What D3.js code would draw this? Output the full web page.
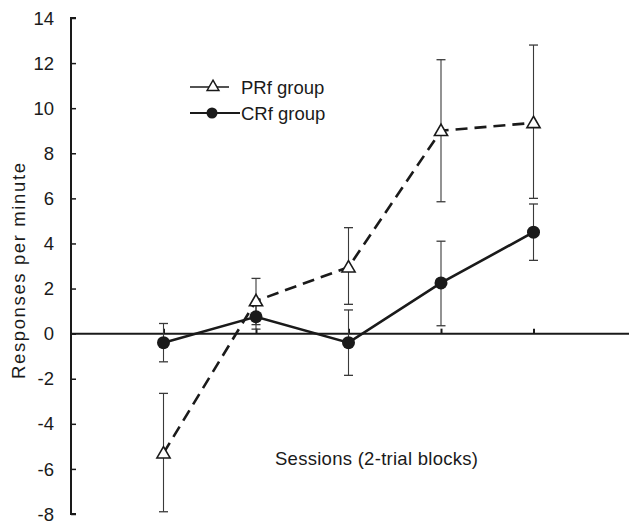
<!DOCTYPE html>
<html><head><meta charset="utf-8">
<script src="https://cdn.jsdelivr.net/npm/d3@7"></script>
<style>body{margin:0;background:#fff}svg{display:block}text{font-family:"Liberation Sans",Arial,sans-serif;fill:#1a1a1a}</style>
</head><body><svg id="c" width="629" height="521"></svg>
<script>
const sessions = [1, 2, 3, 4, 5];
const prfMean = [-5.3, 1.45, 2.95, 9.0, 9.35];
const prfLow  = [-7.9, 0.4, 1.3, 5.85, 6.0];
const prfHigh = [-2.65, 2.45, 4.7, 12.15, 12.8];
const crfMean = [-0.4, 0.75, -0.4, 2.25, 4.5];
const crfLow  = [-1.25, 0.2, -1.85, 0.35, 3.25];
const crfHigh = [0.45, 1.25, 1.05, 4.1, 5.75];
const yTicks = [-8, -6, -4, -2, 0, 2, 4, 6, 8, 10, 12, 14];
const legendLabels = ["PRf group", "CRf group"];

const svg = d3.select("#c");
const x = d3.scaleLinear().domain([0, 6]).range([71, 626]);
const y = d3.scaleLinear().domain([-8, 14]).range([514, 18]);
const ink = "#1a1a1a";

// y axis
const ya = svg.append("g").attr("transform", `translate(${x(0)},0)`)
  .call(d3.axisRight(y).tickValues(yTicks).tickSize(5).tickFormat(""));
ya.select(".domain").attr("stroke", ink).attr("stroke-width", 2).attr("d", `M5,${y(14)}H0V${y(-8)}H5`);
ya.selectAll(".tick line").attr("stroke", ink).attr("stroke-width", 1.5);
svg.append("g").selectAll("text").data(yTicks).join("text")
  .attr("x", 54).attr("y", d => y(d)).attr("dy", "0.36em").attr("text-anchor", "end")
  .attr("font-size", 18.5).text(d => d);

// x axis at zero
const xa = svg.append("g").attr("transform", `translate(0,${y(0)})`)
  .call(d3.axisTop(x).tickValues(sessions).tickSize(5).tickFormat(""));
xa.select(".domain").attr("stroke", ink).attr("stroke-width", 2).attr("d", `M${x(0)},0H629`);
xa.selectAll(".tick line").attr("stroke", ink).attr("stroke-width", 2);

// axis labels
svg.append("text").attr("transform", `translate(25,271) rotate(-90)`)
  .attr("text-anchor", "middle").attr("font-size", 18.5)
  .attr("textLength", 216).attr("lengthAdjust", "spacing").text("Responses per minute");
svg.append("text").attr("x", 376.5).attr("y", 465).attr("text-anchor", "middle")
  .attr("font-size", 18.5).attr("textLength", 203).attr("lengthAdjust", "spacing")
  .text("Sessions (2-trial blocks)");

// error bars
function errBars(low, high, cls) {
  const g = svg.append("g").attr("class", cls);
  sessions.forEach((s, i) => {
    g.append("line").attr("x1", x(s)).attr("x2", x(s)).attr("y1", y(low[i])).attr("y2", y(high[i]))
      .attr("stroke", "#3a3a3a").attr("stroke-width", 1.1);
    [low[i], high[i]].forEach(v => g.append("line").attr("x1", x(s) - 4.5).attr("x2", x(s) + 4.5)
      .attr("y1", y(v)).attr("y2", y(v)).attr("stroke", "#3a3a3a").attr("stroke-width", 1.3));
  });
}
errBars(prfLow, prfHigh, "prf-err");
errBars(crfLow, crfHigh, "crf-err");

const line = d3.line().x((d, i) => x(sessions[i])).y(d => y(d));
svg.append("path").datum(prfMean).attr("d", line).attr("fill", "none").attr("stroke", ink)
  .attr("stroke-width", 2.6).attr("stroke-dasharray", "12,7");
svg.append("path").datum(crfMean).attr("d", line).attr("fill", "none").attr("stroke", ink)
  .attr("stroke-width", 2.6);

const tri = d3.symbol().type(d3.symbolTriangle).size(75);
svg.append("g").selectAll("path").data(prfMean).join("path")
  .attr("transform", (d, i) => `translate(${x(sessions[i])},${y(d) + 1})`)
  .attr("d", tri).attr("fill", "#fff").attr("stroke", ink).attr("stroke-width", 1.6);
svg.append("g").selectAll("circle").data(crfMean).join("circle")
  .attr("cx", (d, i) => x(sessions[i])).attr("cy", d => y(d)).attr("r", 6.5).attr("fill", ink);

// legend
const lg = svg.append("g");
lg.append("line").attr("x1", 190).attr("x2", 229).attr("y1", 87).attr("y2", 87).attr("stroke", ink).attr("stroke-width", 1.4);
lg.append("path").attr("transform", "translate(213,87)").attr("d", d3.symbol().type(d3.symbolTriangle).size(60))
  .attr("fill", "#fff").attr("stroke", ink).attr("stroke-width", 1.5);
lg.append("line").attr("x1", 190).attr("x2", 240).attr("y1", 113).attr("y2", 113).attr("stroke", ink).attr("stroke-width", 2.2);
lg.append("circle").attr("cx", 212).attr("cy", 113).attr("r", 5.5).attr("fill", ink);
lg.selectAll("text").data(legendLabels).join("text")
  .attr("x", 241).attr("y", (d, i) => 87 + i * 26).attr("dy", "0.36em").attr("font-size", 18.5).text(d => d);
</script></body></html>
